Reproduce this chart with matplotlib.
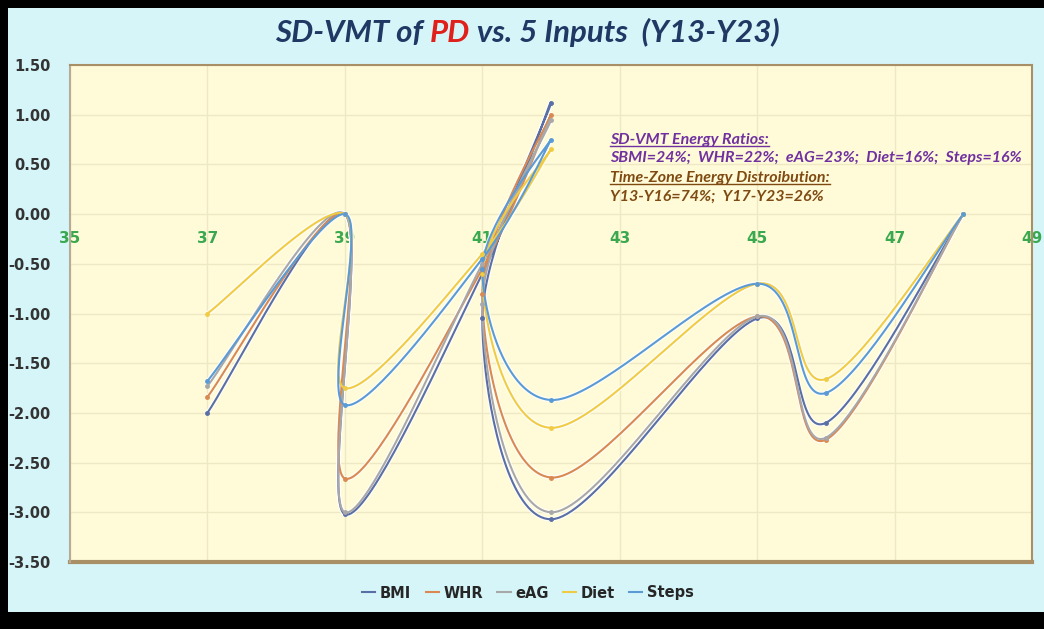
import numpy as np
import matplotlib
matplotlib.use("Agg")
import matplotlib.pyplot as plt
from matplotlib.patches import Rectangle
from matplotlib.offsetbox import TextArea, HPacker, AnchoredOffsetbox

# x position of each point (same for all five series)
x_vals = [37, 39, 39, 41, 42, 41, 42, 45, 46, 48]

bmi = [-2.00, 0.0, -3.02, -0.60, 1.12, -1.05, -3.07, -1.05, -2.10, 0.0]
whr = [-1.84, 0.0, -2.66, -0.55, 1.00, -0.80, -2.65, -1.03, -2.27, 0.0]
eag = [-1.73, 0.0, -3.00, -0.50, 0.95, -0.90, -3.00, -1.03, -2.25, 0.0]
diet = [-1.00, 0.0, -1.75, -0.40, 0.65, -0.60, -2.15, -0.70, -1.66, 0.0]
steps = [-1.68, 0.0, -1.92, -0.45, 0.75, -0.55, -1.87, -0.70, -1.80, 0.0]

series_names = ["BMI", "WHR", "eAG", "Diet", "Steps"]
series_vals = [bmi, whr, eag, diet, steps]
series_colors = ["#5a6fa6", "#d98a52", "#a8a8a8", "#f0cc45", "#5b9bd5"]

x_ticks = [35, 37, 39, 41, 43, 45, 47, 49]
y_ticks = [-3.5, -3.0, -2.5, -2.0, -1.5, -1.0, -0.5, 0.0, 0.5, 1.0, 1.5]

NARROW = ["Lato", "DejaVu Sans"]


def smooth_line(ax, xs, ys, n=40):
    """Excel-like smoothed line: cubic Bezier through the points, done in pixel space."""
    pts = ax.transData.transform(np.column_stack([xs, ys]))
    last = len(pts) - 1
    out = []
    t = np.linspace(0, 1, n)[:, None]
    for i in range(last):
        p0 = pts[max(i - 1, 0)]
        p1 = pts[i]
        p2 = pts[i + 1]
        p3 = pts[min(i + 2, last)]
        c1 = p1 + (p2 - p0) / 6.0
        c2 = p2 - (p3 - p1) / 6.0
        seg = ((1 - t) ** 3) * p1 + 3 * ((1 - t) ** 2) * t * c1 + 3 * (1 - t) * t ** 2 * c2 + t ** 3 * p2
        out.append(seg)
    out = np.vstack(out)
    data = ax.transData.inverted().transform(out)
    return data[:, 0], data[:, 1]


fig = plt.figure(figsize=(10.44, 6.29), dpi=100, facecolor="black")

# light cyan chart area
fig.patches.append(Rectangle((8 / 1044, 17 / 629), 1036 / 1044, 604 / 629,
                             transform=fig.transFigure, facecolor="#d6f5f9",
                             edgecolor="none", zorder=-5))

ax = fig.add_axes([70 / 1044, (629 - 562) / 629, 962 / 1044, 497 / 629])
ax.set_zorder(2)
ax.set_facecolor("#fffbd8")
ax.set_xlim(35, 49)
ax.set_ylim(-3.5, 1.5)

ax.set_xticks(x_ticks)
ax.set_yticks(y_ticks)
ax.set_yticklabels(["%.2f" % v for v in y_ticks])
ax.grid(True, color="#eee8c4", lw=1)
ax.set_axisbelow(True)

for side in ["top", "right"]:
    ax.spines[side].set_color("#a88f66")
    ax.spines[side].set_linewidth(1.5)
ax.spines["left"].set_color("#b5ab96")
ax.spines["left"].set_linewidth(1.5)
ax.spines["bottom"].set_position(("data", 0))
ax.spines["bottom"].set_visible(False)

# frame bottom edge
ax.axhline(-3.5, color="#a88f66", lw=3, clip_on=False)

ax.tick_params(axis="x", length=0, pad=12, colors="#3aa84e", labelsize=11)
ax.tick_params(axis="y", length=0, pad=14, labelcolor="#333333", labelsize=10.5)
for lab in ax.get_xticklabels() + ax.get_yticklabels():
    lab.set_fontweight("bold")

for name, vals, col in zip(series_names, series_vals, series_colors):
    sx, sy = smooth_line(ax, x_vals, vals)
    ax.plot(sx, sy, color="white", lw=3.2, alpha=0.8, zorder=2)
    ax.plot(sx, sy, color=col, lw=1.5, label=name, zorder=3)
    ax.plot(x_vals, vals, "o", color=col, ms=2.5, zorder=4)

# title with red "PD"
title_kw = dict(fontsize=22.5, fontweight="bold", fontstyle="italic", family=NARROW)
parts = [TextArea("SD-VMT of ", textprops=dict(color="#1f3864", **title_kw)),
         TextArea("PD", textprops=dict(color="#e0201b", **title_kw)),
         TextArea(" vs. 5 Inputs  (Y13-Y23)", textprops=dict(color="#1f3864", **title_kw))]
box = HPacker(children=parts, align="baseline", pad=0, sep=0)
anchored = AnchoredOffsetbox(loc="center", child=box, frameon=False,
                             bbox_to_anchor=(527 / 1044, 1 - 32 / 629),
                             bbox_transform=fig.transFigure, borderpad=0)
fig.add_artist(anchored)

# energy notes
note_kw = dict(fontsize=11.5, fontweight="bold", fontstyle="italic", family=NARROW,
               transform=fig.transFigure, ha="left", va="center", zorder=5)
h1 = fig.text(610 / 1044, 1 - 140 / 629, "SD-VMT Energy Ratios:", color="#7030a0", **note_kw)
fig.text(610 / 1044, 1 - 158 / 629,
         "SBMI=24%;  WHR=22%;  eAG=23%;  Diet=16%;  Steps=16%", color="#7030a0", **note_kw)
h2 = fig.text(610 / 1044, 1 - 178 / 629, "Time-Zone Energy Distroibution:", color="#7f4a12", **note_kw)
fig.text(610 / 1044, 1 - 197 / 629, "Y13-Y16=74%;  Y17-Y23=26%", color="#7f4a12", **note_kw)

# underline the two headings, using their drawn width
fig.canvas.draw()
renderer = fig.canvas.get_renderer()
for head in [h1, h2]:
    bb = head.get_window_extent(renderer).transformed(fig.transFigure.inverted())
    fig.lines.append(plt.Line2D([bb.x0, bb.x1], [bb.y0 + 0.002] * 2,
                                transform=fig.transFigure, color=head.get_color(),
                                lw=1, zorder=5))

leg = fig.legend(loc="center", bbox_to_anchor=(528 / 1044, 1 - 593 / 629), ncol=5,
                 frameon=False, handlelength=0.9, handletextpad=0.3, columnspacing=1.0,
                 prop=dict(weight="bold", size=10.5))
for txt in leg.get_texts():
    txt.set_color("#262626")

fig.savefig("out.png", dpi=100, facecolor=fig.get_facecolor())
